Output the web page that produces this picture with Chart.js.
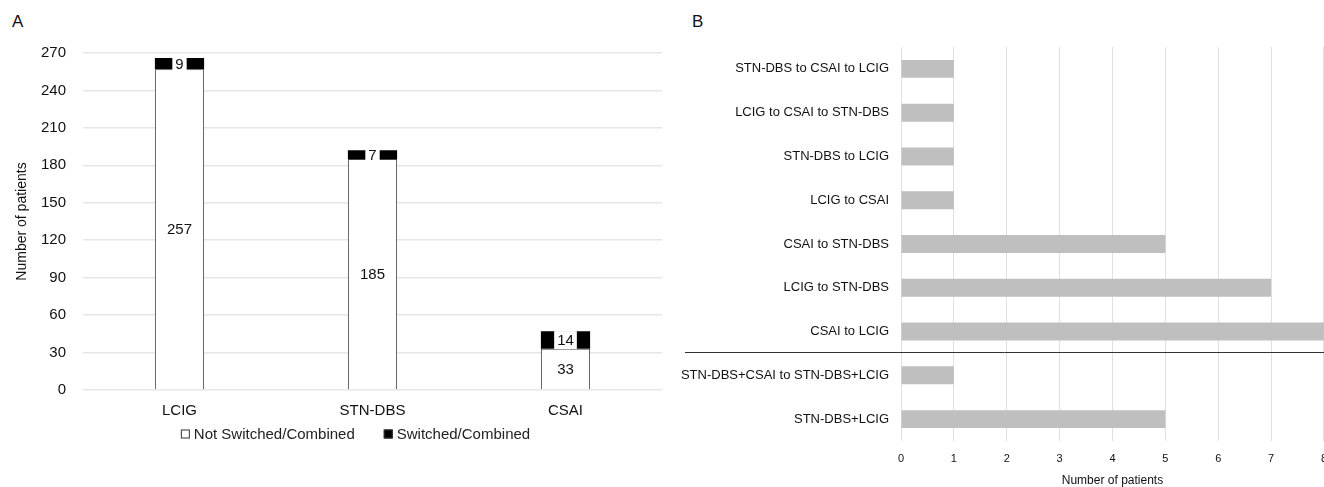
<!DOCTYPE html>
<html>
<head>
<meta charset="utf-8">
<script src="https://cdn.jsdelivr.net/npm/chart.js@4"></script>
<style>
  html, body { margin: 0; padding: 0; background: #fff; overflow: hidden; width: 1324px; height: 487px; }
  #chartA { position: absolute; left: 0; top: 0; }
  #chartB { position: absolute; left: 680px; top: 0; }
  .painel { position: absolute; top: 12px; font: 17px "Liberation Sans", Arial, sans-serif; color: #111; }
</style>
</head>
<body>
<div class="painel" style="left: 12px;">A</div>
<div class="painel" style="left: 692px;">B</div>
<canvas id="chartA" width="672" height="487"></canvas>
<canvas id="chartB" width="658" height="495"></canvas>
<script>
// dados do painel A
const categoriasA = ['LCIG', 'STN-DBS', 'CSAI']
const naoTrocados = [257, 185, 33]
const trocados = [9, 7, 14]

// dados do painel B
const categoriasB = [
    'STN-DBS to CSAI to LCIG',
    'LCIG to CSAI to STN-DBS',
    'STN-DBS to LCIG',
    'LCIG to CSAI',
    'CSAI to STN-DBS',
    'LCIG to STN-DBS',
    'CSAI to LCIG',
    'STN-DBS+CSAI to STN-DBS+LCIG',
    'STN-DBS+LCIG'
]
const pacientesB = [1, 1, 1, 1, 5, 7, 8, 1, 5]

const fonte = '"Liberation Sans", Arial, sans-serif'

// rótulos dentro das barras (o de cima tem fundo branco)
const rotulosBarras = {
    id: 'rotulosBarras',
    afterDatasetsDraw(chart) {
        const ctx = chart.ctx
        ctx.save()
        ctx.font = '15px ' + fonte
        ctx.textAlign = 'center'
        ctx.textBaseline = 'middle'
        chart.data.datasets.forEach((ds, i) => {
            chart.getDatasetMeta(i).data.forEach((bar, j) => {
                const txt = String(ds.data[j])
                const y = (bar.y + bar.base) / 2
                if (i === 1) {
                    const w = ctx.measureText(txt).width + 6
                    ctx.fillStyle = '#fff'
                    ctx.fillRect(bar.x - w / 2, y - 9, w, 18)
                }
                ctx.fillStyle = '#111'
                ctx.fillText(txt, bar.x, y + 1)
            })
        })
        ctx.restore()
    }
}

// legenda desenhada à mão, para ter o espaço certo entre os itens
const legendaA = {
    id: 'legendaA',
    afterDraw(chart) {
        const ctx = chart.ctx
        const ds = chart.data.datasets
        ctx.save()
        ctx.font = '15px ' + fonte
        ctx.textBaseline = 'middle'
        const larguras = ds.map(d => 13 + ctx.measureText(d.label).width)
        const gap = 29
        const total = larguras.reduce((a, b) => a + b, 0) + gap * (ds.length - 1)
        let x = 355.5 - total / 2
        const y = chart.chartArea.bottom + 44
        ds.forEach((d, i) => {
            ctx.fillStyle = d.backgroundColor
            ctx.fillRect(x, y - 4.5, 9, 9)
            ctx.strokeStyle = '#333'
            ctx.lineWidth = 1
            ctx.strokeRect(x + 0.5, y - 4, 8, 8)
            ctx.fillStyle = '#222'
            ctx.fillText(d.label, x + 13, y + 1)
            x += larguras[i] + gap
        })
        ctx.restore()
    }
}

new Chart(document.getElementById('chartA'), {
    type: 'bar',
    data: {
        labels: categoriasA,
        datasets: [{
            label: 'Not Switched/Combined',
            data: naoTrocados,
            backgroundColor: '#fff',
            borderColor: '#444',
            borderWidth: 1,
            categoryPercentage: 1,
            barPercentage: 0.255
        }, {
            label: 'Switched/Combined',
            data: trocados,
            backgroundColor: '#000',
            borderWidth: 0,
            categoryPercentage: 1,
            barPercentage: 0.255
        }]
    },
    options: {
        responsive: false,
        animation: false,
        layout: { padding: { left: 10, right: 10, top: 53, bottom: 65 } },
        plugins: {
            legend: { display: false },
            tooltip: { enabled: false }
        },
        scales: {
            x: {
                stacked: true,
                afterFit: (s) => { s.height = 32 },
                grid: { display: false, drawTicks: false },
                border: { display: false },
                ticks: { color: '#111', font: { family: fonte, size: 15 }, padding: 12 }
            },
            y: {
                stacked: true,
                min: 0,
                max: 270,
                afterFit: (s) => { s.width = 73 },
                grid: { color: '#e6e6e6', lineWidth: 1.5, drawTicks: false },
                border: { display: false },
                ticks: { stepSize: 30, color: '#111', font: { family: fonte, size: 15 }, padding: 17 },
                title: { display: true, text: 'Number of patients', color: '#111', font: { family: fonte, size: 14 } }
            }
        }
    },
    plugins: [rotulosBarras, legendaA]
})

// linha que separa os grupos do painel B
const separador = {
    id: 'separador',
    afterDraw(chart) {
        const y = chart.scales.y
        const yy = Math.round((y.getPixelForValue(6) + y.getPixelForValue(7)) / 2) - 0.5
        const ctx = chart.ctx
        ctx.save()
        ctx.strokeStyle = '#333'
        ctx.lineWidth = 1
        ctx.beginPath()
        ctx.moveTo(5, yy)
        ctx.lineTo(chart.chartArea.right, yy)
        ctx.stroke()
        ctx.restore()
    }
}

new Chart(document.getElementById('chartB'), {
    type: 'bar',
    data: {
        labels: categoriasB,
        datasets: [{
            data: pacientesB,
            backgroundColor: '#bfbfbf',
            categoryPercentage: 1,
            barPercentage: 0.41
        }]
    },
    options: {
        indexAxis: 'y',
        responsive: false,
        animation: false,
        layout: { padding: { left: 0, right: 6, top: 47, bottom: 0 } },
        plugins: { legend: { display: false }, tooltip: { enabled: false } },
        scales: {
            x: {
                min: 0,
                max: 8,
                afterFit: (s) => { s.height = 54 },
                grid: { color: '#e0e0e0', lineWidth: 1, drawTicks: false },
                border: { display: false },
                ticks: { stepSize: 1, color: '#111', font: { family: fonte, size: 11 }, padding: 11 },
                title: { display: true, text: 'Number of patients', color: '#111', font: { family: fonte, size: 12 }, padding: { top: 0, bottom: 7 } }
            },
            y: {
                afterFit: (s) => { s.width = 221 },
                grid: { display: false, drawTicks: false },
                border: { display: false },
                ticks: { color: '#111', font: { family: fonte, size: 13 }, padding: 12 }
            }
        }
    },
    plugins: [separador]
})
</script>
</body>
</html>
